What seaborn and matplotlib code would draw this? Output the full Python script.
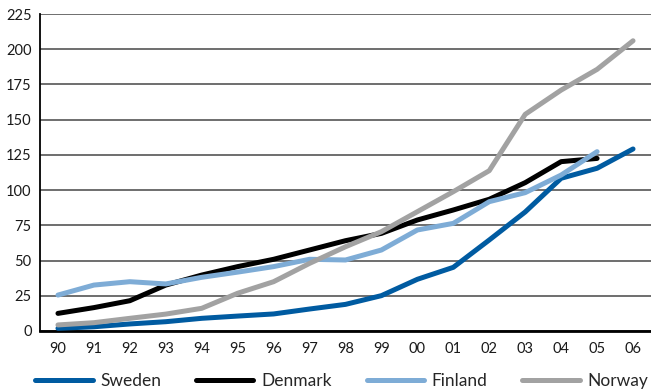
import matplotlib
matplotlib.use("Agg")
import matplotlib.pyplot as plt
import seaborn as sns
import pandas as pd

# Index values per country, 1990-2006
years = ["90", "91", "92", "93", "94", "95", "96", "97", "98", "99",
         "00", "01", "02", "03", "04", "05", "06"]
sweden = [1.9, 3.0, 5.0, 6.6, 9.0, 10.6, 12.1, 15.6, 18.9, 25.1,
          36.7, 45.2, 64.6, 84.5, 108.4, 115.5, 129.2]
denmark = [12.5, 16.6, 21.5, 32.6, 39.7, 45.7, 50.9, 57.5, 64.1, 69.3,
           78.8, 85.9, 93.5, 105.3, 120.2, 122.5, None]
finland = [25.5, 32.6, 35.0, 33.4, 38.1, 41.8, 45.7, 50.9, 50.4, 57.5,
           71.7, 76.4, 91.8, 98.2, 110.7, 127.3, None]
norway = [4.3, 5.9, 9.0, 12.0, 16.1, 26.8, 35.0, 48.0, 59.8, 70.5,
          84.7, 98.9, 113.8, 153.8, 171.0, 185.7, 206.0]

countries = ["Sweden", "Denmark", "Finland", "Norway"]
colors = ["#005BA1", "#000000", "#7EACD6", "#A2A2A2"]

series = dict(zip(countries, [sweden, denmark, finland, norway]))
rows = []
for name, vals in series.items():
    for i, v in enumerate(vals):
        if v is not None:
            rows.append({"pos": i, "value": v, "country": name})
df = pd.DataFrame(rows)

sns.set_style("white")
plt.rcParams["font.family"] = ["Lato", "DejaVu Sans"]

fig = plt.figure(figsize=(6.51, 3.89), dpi=100)
ax = fig.add_axes([40 / 651, 58 / 389, 611 / 651, 317 / 389])

sns.lineplot(data=df, x="pos", y="value", hue="country",
             hue_order=countries, palette=colors, linewidth=3.6,
             ax=ax, legend=False, zorder=3)

ax.set_xlim(-0.5, len(years) - 0.5)
ax.set_ylim(0, 225)
ax.set_yticks(range(0, 226, 25))
ax.set_xticks(range(len(years)))
ax.set_xticklabels(years)
ax.set_xlabel("")
ax.set_ylabel("")

ax.grid(axis="y", color="#555555", linewidth=1.2, zorder=0)
ax.grid(axis="x", visible=False)
for side in ["top", "right"]:
    ax.spines[side].set_visible(False)
ax.spines["left"].set_color("black")
ax.spines["left"].set_linewidth(1.3)
ax.spines["bottom"].set_color("black")
ax.spines["bottom"].set_linewidth(2.0)
ax.tick_params(axis="both", length=0, labelsize=10.5, colors="#1a1a1a")
ax.tick_params(axis="y", pad=6)
ax.tick_params(axis="x", pad=8)

handles = [plt.Line2D([0], [0], color=c, linewidth=3.6) for c in colors]
fig.legend(handles, countries, loc="center", ncol=4,
           bbox_to_anchor=(0.525, 0.02), frameon=False, fontsize=12.5,
           handlelength=3.3, handletextpad=0.45, columnspacing=2.0,
           borderaxespad=0, borderpad=0)

fig.savefig("out.png", dpi=100)
